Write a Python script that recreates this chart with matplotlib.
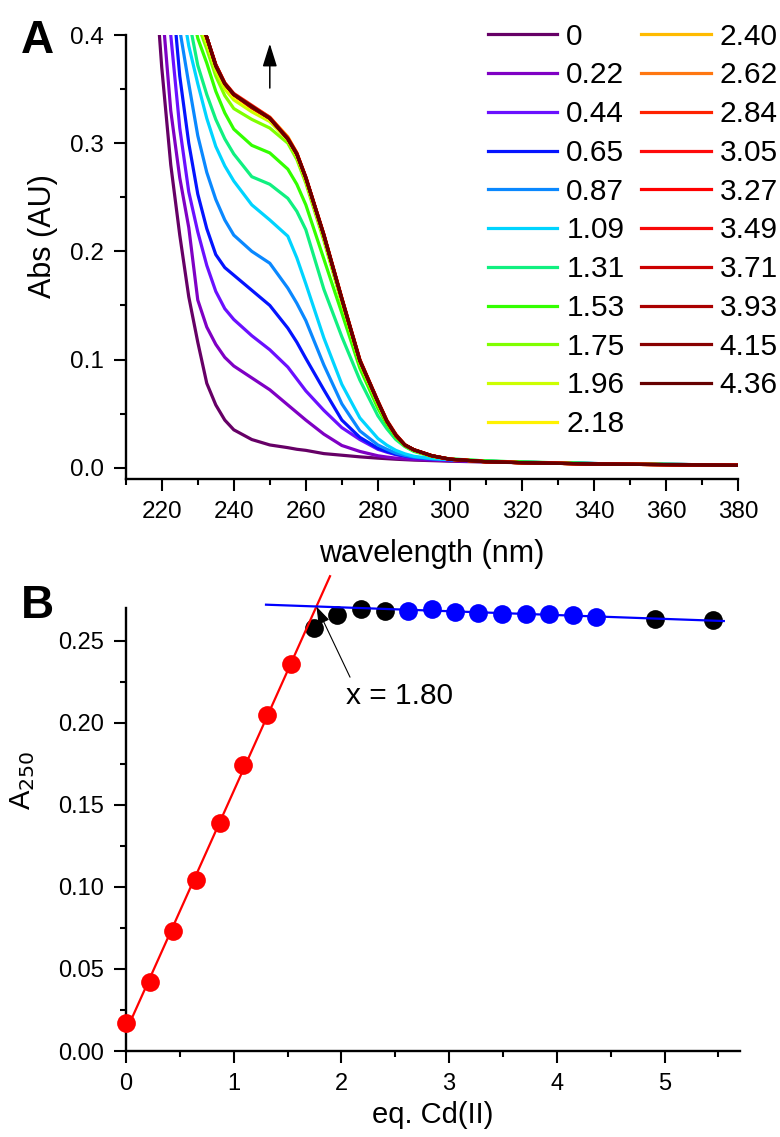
import numpy as np
import matplotlib
matplotlib.use("Agg")
import matplotlib.pyplot as plt
from matplotlib.ticker import MultipleLocator, FormatStrFormatter

plt.rcParams["font.family"] = ["Liberation Sans", "DejaVu Sans"]

# ---- panel A: UV spectra during Cd(II) titration ----
wavelength = [215, 220, 222.5, 225, 227.5, 230, 232.5, 235, 237.5, 240,
              245, 250, 255, 257.5, 260, 265, 270, 275, 280, 282.5,
              285, 287.5, 290, 295, 300, 310, 320, 340, 360, 380]

abs_000 = [0.60, 0.37, 0.28, 0.215, 0.158, 0.116, 0.078, 0.058, 0.044, 0.035,
           0.026, 0.021, 0.0185, 0.017, 0.016, 0.013, 0.0115, 0.010, 0.0088, 0.0083,
           0.0078, 0.0074, 0.0070, 0.0065, 0.0060, 0.0052, 0.0046, 0.0036, 0.0030, 0.0025]
abs_022 = [0.65, 0.43, 0.33, 0.268, 0.222, 0.155, 0.130, 0.114, 0.102, 0.094,
           0.083, 0.072, 0.058, 0.051, 0.044, 0.031, 0.0205, 0.015, 0.011, 0.0098,
           0.0088, 0.0081, 0.0076, 0.0070, 0.0064, 0.0055, 0.0048, 0.0037, 0.0030, 0.0025]
abs_044 = [0.70, 0.50, 0.40, 0.314, 0.255, 0.218, 0.187, 0.163, 0.147, 0.137,
           0.122, 0.109, 0.093, 0.082, 0.071, 0.053, 0.037, 0.026, 0.017, 0.0143,
           0.012, 0.0104, 0.0092, 0.0078, 0.0070, 0.0058, 0.0050, 0.0038, 0.0030, 0.0025]
abs_065 = [0.75, 0.53, 0.455, 0.362, 0.300, 0.253, 0.221, 0.197, 0.185, 0.178,
           0.164, 0.150, 0.129, 0.116, 0.101, 0.072, 0.044, 0.028, 0.018, 0.015,
           0.0125, 0.0108, 0.0095, 0.0080, 0.0072, 0.0060, 0.0050, 0.0038, 0.0030, 0.0025]
abs_087 = [0.78, 0.56, 0.48, 0.405, 0.355, 0.307, 0.273, 0.248, 0.229, 0.215,
           0.200, 0.189, 0.166, 0.152, 0.136, 0.095, 0.059, 0.034, 0.021, 0.017,
           0.0135, 0.0114, 0.0098, 0.0082, 0.0074, 0.0060, 0.0050, 0.0038, 0.0030, 0.0025]
abs_109 = [0.80, 0.60, 0.52, 0.44, 0.39, 0.355, 0.323, 0.297, 0.279, 0.265,
           0.243, 0.229, 0.214, 0.194, 0.170, 0.120, 0.077, 0.046, 0.027, 0.0208,
           0.016, 0.0128, 0.0105, 0.0085, 0.0075, 0.0060, 0.0050, 0.0038, 0.0030, 0.0025]
abs_131 = [0.82, 0.62, 0.55, 0.47, 0.415, 0.372, 0.345, 0.322, 0.304, 0.290,
           0.269, 0.262, 0.249, 0.237, 0.220, 0.165, 0.121, 0.081, 0.048, 0.036,
           0.026, 0.0195, 0.015, 0.0105, 0.0082, 0.0062, 0.0052, 0.0038, 0.0030, 0.0025]
abs_153 = [0.84, 0.64, 0.57, 0.49, 0.435, 0.397, 0.374, 0.348, 0.328, 0.313,
           0.298, 0.291, 0.276, 0.262, 0.243, 0.193, 0.143, 0.092, 0.055, 0.040,
           0.028, 0.020, 0.0155, 0.0105, 0.0080, 0.0062, 0.0052, 0.0038, 0.0030, 0.0025]
abs_175 = [0.85, 0.65, 0.58, 0.50, 0.445, 0.410, 0.387, 0.362, 0.344, 0.332,
           0.322, 0.314, 0.300, 0.285, 0.263, 0.210, 0.152, 0.096, 0.058, 0.042,
           0.029, 0.0205, 0.016, 0.0105, 0.0078, 0.0055, 0.0047, 0.0035, 0.0030, 0.0025]
abs_196 = [0.855, 0.655, 0.585, 0.505, 0.450, 0.415, 0.392, 0.367, 0.350, 0.340,
           0.329, 0.320, 0.303, 0.288, 0.266, 0.213, 0.154, 0.098, 0.060, 0.043,
           0.030, 0.021, 0.0163, 0.0108, 0.0078, 0.0055, 0.0046, 0.0034, 0.0028, 0.0022]
abs_218 = [0.86, 0.66, 0.59, 0.51, 0.455, 0.419, 0.396, 0.371, 0.354, 0.343,
           0.332, 0.322, 0.304, 0.289, 0.267, 0.214, 0.155, 0.099, 0.061, 0.043,
           0.030, 0.021, 0.0165, 0.0110, 0.0078, 0.0055, 0.0046, 0.0034, 0.0028, 0.0022]
abs_240 = [0.86, 0.66, 0.59, 0.51, 0.455, 0.420, 0.397, 0.372, 0.355, 0.345,
           0.334, 0.324, 0.306, 0.291, 0.268, 0.215, 0.156, 0.099, 0.061, 0.043,
           0.030, 0.021, 0.0165, 0.0110, 0.0078, 0.0055, 0.0046, 0.0034, 0.0028, 0.0022]
abs_262 = [0.86, 0.66, 0.59, 0.51, 0.455, 0.420, 0.397, 0.372, 0.355, 0.345,
           0.334, 0.323, 0.305, 0.291, 0.268, 0.216, 0.157, 0.100, 0.061, 0.043,
           0.030, 0.021, 0.0165, 0.0110, 0.0078, 0.0055, 0.0046, 0.0034, 0.0028, 0.0022]
abs_284 = [0.86, 0.66, 0.59, 0.51, 0.455, 0.421, 0.398, 0.373, 0.356, 0.346,
           0.335, 0.324, 0.305, 0.291, 0.269, 0.216, 0.157, 0.100, 0.062, 0.044,
           0.031, 0.021, 0.0166, 0.0110, 0.0078, 0.0055, 0.0046, 0.0034, 0.0028, 0.0022]
abs_305 = [0.86, 0.66, 0.59, 0.51, 0.455, 0.420, 0.398, 0.372, 0.355, 0.345,
           0.334, 0.323, 0.304, 0.290, 0.268, 0.215, 0.156, 0.099, 0.061, 0.043,
           0.030, 0.021, 0.0165, 0.0110, 0.0078, 0.0055, 0.0046, 0.0034, 0.0028, 0.0022]
abs_327 = [0.86, 0.66, 0.59, 0.51, 0.455, 0.420, 0.398, 0.372, 0.355, 0.345,
           0.334, 0.323, 0.304, 0.290, 0.268, 0.215, 0.156, 0.099, 0.061, 0.043,
           0.030, 0.021, 0.0165, 0.0110, 0.0078, 0.0055, 0.0046, 0.0034, 0.0028, 0.0022]
abs_349 = [0.86, 0.66, 0.59, 0.51, 0.455, 0.420, 0.398, 0.372, 0.355, 0.345,
           0.333, 0.323, 0.304, 0.290, 0.268, 0.215, 0.156, 0.099, 0.061, 0.043,
           0.030, 0.021, 0.0165, 0.0110, 0.0078, 0.0055, 0.0046, 0.0034, 0.0028, 0.0022]
abs_371 = [0.86, 0.66, 0.59, 0.51, 0.455, 0.420, 0.398, 0.372, 0.355, 0.345,
           0.333, 0.323, 0.304, 0.290, 0.268, 0.215, 0.156, 0.099, 0.061, 0.043,
           0.030, 0.021, 0.0165, 0.0110, 0.0078, 0.0055, 0.0046, 0.0034, 0.0028, 0.0022]
abs_393 = [0.86, 0.66, 0.59, 0.51, 0.455, 0.420, 0.398, 0.372, 0.355, 0.345,
           0.333, 0.323, 0.304, 0.290, 0.268, 0.215, 0.156, 0.099, 0.061, 0.043,
           0.030, 0.021, 0.0165, 0.0110, 0.0078, 0.0055, 0.0046, 0.0034, 0.0028, 0.0022]
abs_415 = [0.86, 0.66, 0.59, 0.51, 0.455, 0.420, 0.398, 0.372, 0.355, 0.345,
           0.334, 0.323, 0.304, 0.290, 0.268, 0.215, 0.156, 0.099, 0.061, 0.043,
           0.030, 0.021, 0.0165, 0.0110, 0.0078, 0.0055, 0.0046, 0.0034, 0.0028, 0.0022]
abs_436 = [0.86, 0.66, 0.59, 0.51, 0.455, 0.420, 0.398, 0.371, 0.355, 0.345,
           0.334, 0.323, 0.304, 0.290, 0.268, 0.215, 0.156, 0.099, 0.061, 0.043,
           0.030, 0.021, 0.0165, 0.0110, 0.0078, 0.0055, 0.0046, 0.0034, 0.0028, 0.0022]

spectra = [abs_000, abs_022, abs_044, abs_065, abs_087, abs_109, abs_131, abs_153, abs_175, abs_196,
           abs_218, abs_240, abs_262, abs_284, abs_305, abs_327, abs_349, abs_371, abs_393, abs_415, abs_436]
labels = ["0", "0.22", "0.44", "0.65", "0.87", "1.09", "1.31", "1.53", "1.75", "1.96", "2.18",
          "2.40", "2.62", "2.84", "3.05", "3.27", "3.49", "3.71", "3.93", "4.15", "4.36"]
colors = ["#660066", "#7f00c4", "#6a10ff", "#0414ff", "#0a88ff", "#00d4ff", "#10f080", "#33ff00",
          "#80ff00", "#ccff00", "#fff200", "#ffbb00", "#ff7711", "#ff2200", "#ff0a0a", "#ff0000",
          "#f80808", "#cc0000", "#aa0000", "#880000", "#660000"]

# ---- panel B: A250 vs equivalents ----
eq_red = [0, 0.22, 0.44, 0.65, 0.87, 1.09, 1.31, 1.53]
a250_red = [0.0168, 0.0422, 0.0730, 0.1044, 0.1391, 0.1744, 0.2044, 0.2358]
eq_black = [1.75, 1.96, 2.18, 2.40, 4.91, 5.45]
a250_black = [0.2575, 0.2658, 0.2693, 0.2678, 0.2632, 0.2628]
eq_blue = [2.62, 2.84, 3.05, 3.27, 3.49, 3.71, 3.93, 4.15, 4.36]
a250_blue = [0.2682, 0.2693, 0.2676, 0.2670, 0.2662, 0.2662, 0.2662, 0.2656, 0.2642]

fig = plt.figure(figsize=(7.8, 11.37), dpi=100)
ax1 = fig.add_axes([0.1612, 0.5787, 0.7850, 0.3905])
ax2 = fig.add_axes([0.1615, 0.0756, 0.7872, 0.3899])


def style_axes(ax, size):
    for side in ["top", "right"]:
        ax.spines[side].set_visible(False)
    for side in ["left", "bottom"]:
        ax.spines[side].set_linewidth(1.7)
    ax.tick_params(which="major", direction="out", length=8.5, width=1.5, labelsize=size, pad=7)
    ax.tick_params(which="minor", direction="out", length=4.5, width=1.5)


# panel A
for y, lab, c in zip(spectra, labels, colors):
    ax1.plot(wavelength, y, color=c, lw=2.3, label=lab)
ax1.set_xlim(210, 380)
ax1.set_ylim(-0.0105, 0.4)
ax1.xaxis.set_major_locator(MultipleLocator(20))
ax1.xaxis.set_minor_locator(MultipleLocator(10))
ax1.yaxis.set_major_locator(MultipleLocator(0.1))
ax1.yaxis.set_minor_locator(MultipleLocator(0.05))
ax1.yaxis.set_major_formatter(FormatStrFormatter("%.1f"))
style_axes(ax1, 17.5)
ax1.set_xlabel("wavelength (nm)", fontsize=22)
ax1.set_ylabel("Abs (AU)", fontsize=22)
ax1.xaxis.set_label_coords(0.5, -0.135)
ax1.yaxis.set_label_coords(-0.110, 0.547)
ax1.annotate("", xy=(250, 0.392), xytext=(250, 0.351),
             arrowprops=dict(arrowstyle="-|>,head_length=0.7,head_width=0.22",
                             color="black", lw=1.1, mutation_scale=20, shrinkA=0, shrinkB=0))
ax1.legend(loc="upper left", bbox_to_anchor=(0.625, 0.980), bbox_transform=fig.transFigure,
           ncol=2, frameon=False, fontsize=21.5, borderpad=0, borderaxespad=0,
           handlelength=2.34, handletextpad=0.3, columnspacing=0.55, labelspacing=0.36)

# panel B
ax2.plot(eq_red, a250_red, "o", color="red", ms=13.5, mec="none", clip_on=False, zorder=3)
ax2.plot(eq_black, a250_black, "o", color="black", ms=13.5, mec="none", clip_on=False, zorder=3)
ax2.plot(eq_blue, a250_blue, "o", color="blue", ms=13.5, mec="none", clip_on=False, zorder=3)

# linear fits of both regimes, crossing at the stoichiometric point
red_fit = np.polyfit(eq_red, a250_red, 1)
blue_fit = np.polyfit(eq_blue, a250_blue, 1)
xr = np.array([0, 1.894])
xb = np.array([1.3, 5.55])
ax2.plot(xr, np.polyval(red_fit, xr), color="red", lw=1.6, clip_on=False, zorder=4)
ax2.plot(xb, np.polyval(blue_fit, xb), color="blue", lw=1.6, clip_on=False, zorder=4)
x_int = (blue_fit[1] - red_fit[1]) / (red_fit[0] - blue_fit[0])
y_int = np.polyval(red_fit, x_int)
ax2.annotate("", xy=(x_int, y_int), xytext=(2.08, 0.2277), annotation_clip=False,
             arrowprops=dict(arrowstyle="-|>,head_length=0.6,head_width=0.2",
                             color="black", lw=0.8, mutation_scale=18, shrinkA=0, shrinkB=0),
             zorder=5)
ax2.text(2.04, 0.2165, "x = 1.80", fontsize=21.5, va="center", ha="left")

ax2.set_xlim(0, 5.7)
ax2.set_ylim(0, 0.27)
ax2.xaxis.set_major_locator(MultipleLocator(1))
ax2.xaxis.set_minor_locator(MultipleLocator(0.5))
ax2.yaxis.set_major_locator(MultipleLocator(0.05))
ax2.yaxis.set_minor_locator(MultipleLocator(0.025))
ax2.yaxis.set_major_formatter(FormatStrFormatter("%.2f"))
style_axes(ax2, 17)
ax2.set_xlabel("eq. Cd(II)", fontsize=21)
ax2.set_ylabel("A$_{250}$", fontsize=21)
ax2.xaxis.set_label_coords(0.5, -0.112)
ax2.yaxis.set_label_coords(-0.145, 0.61)

fig.text(0.027, 0.9534, "A", fontsize=33, fontweight="bold", va="baseline")
fig.text(0.027, 0.4565, "B", fontsize=33, fontweight="bold", va="baseline")

fig.savefig("out.png", dpi=100)
